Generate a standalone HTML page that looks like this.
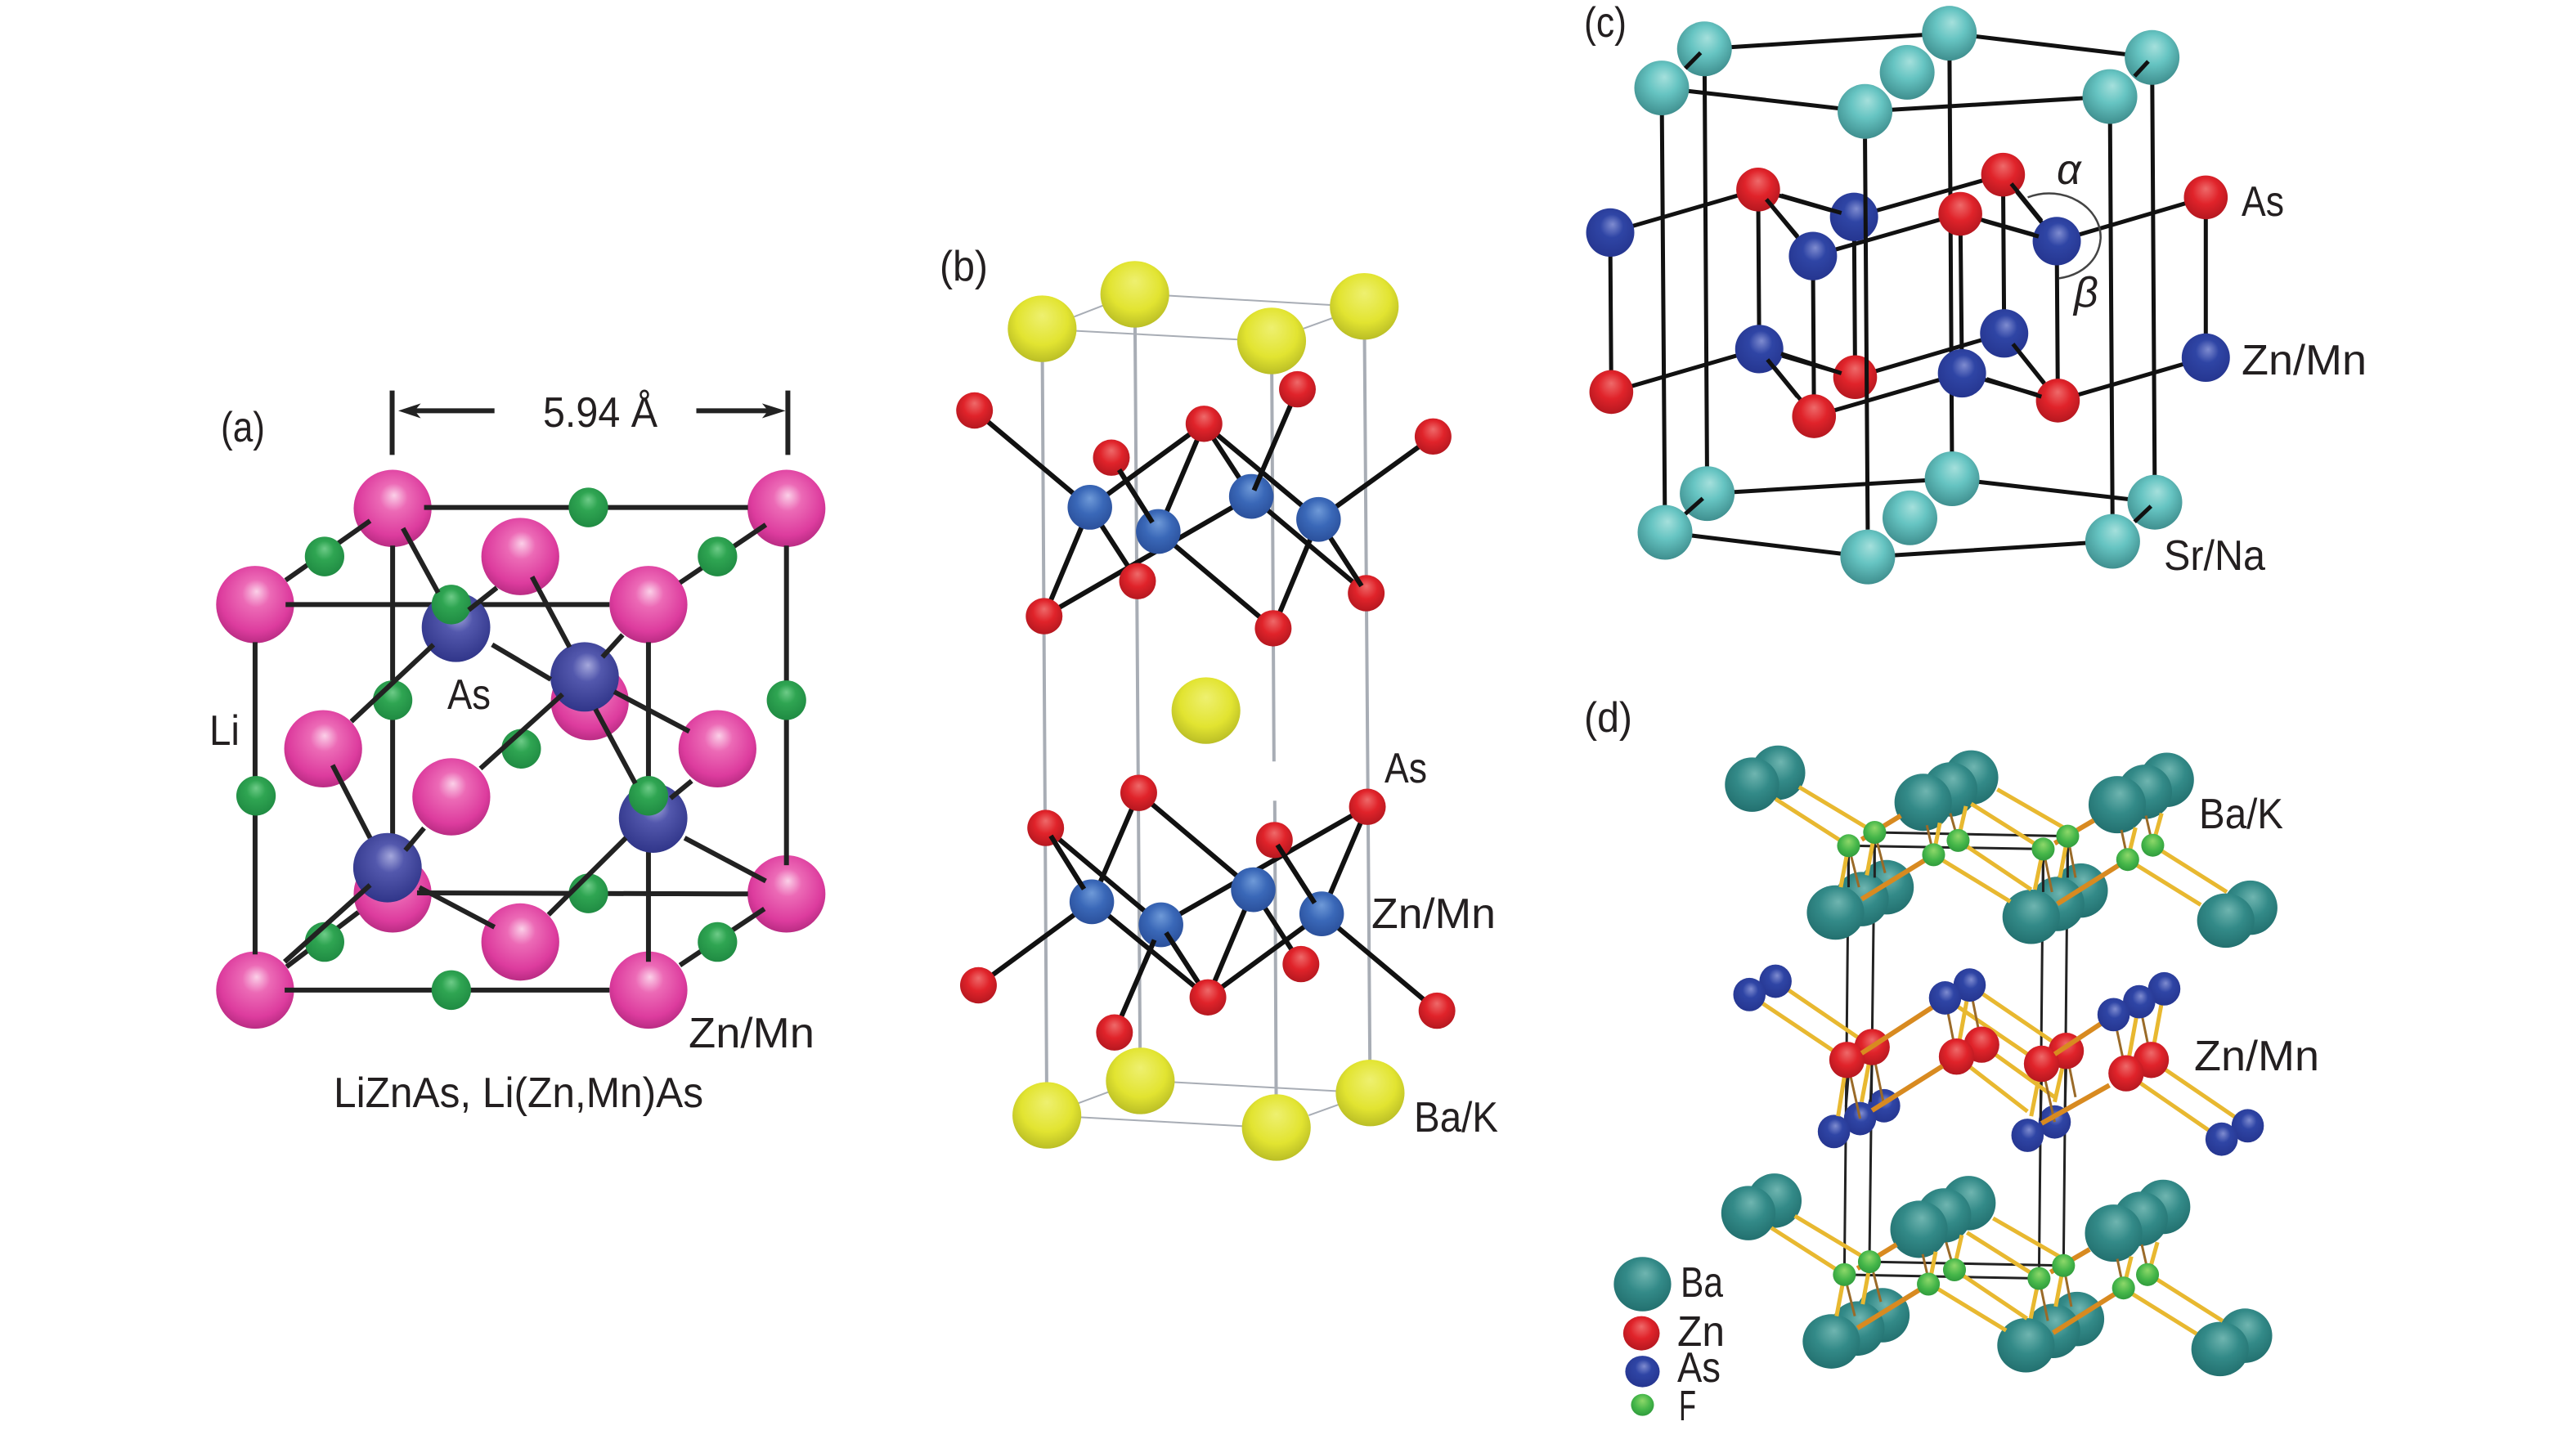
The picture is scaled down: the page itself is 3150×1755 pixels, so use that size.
<!DOCTYPE html>
<html><head><meta charset="utf-8"><style>
html,body{margin:0;padding:0;background:#fff}
svg{display:block}
path{vector-effect:non-scaling-stroke;fill:none;stroke-linecap:butt}
text{font-family:"Liberation Sans",sans-serif;font-size:52px;fill:#231f20}
</style></head><body>
<svg xmlns="http://www.w3.org/2000/svg" width="3150" height="1755" viewBox="0 0 3150 1755">
<defs>
<radialGradient id="pk" cx=".5" cy=".42" r=".6" fx=".52" fy=".33"><stop offset="0" stop-color="#fbd0e8"/><stop offset=".3" stop-color="#ec6ab6"/><stop offset=".75" stop-color="#dd3c9e"/><stop offset="1" stop-color="#b52a80"/></radialGradient>
<radialGradient id="gr" cx=".5" cy=".42" r=".6" fx=".5" fy=".3"><stop offset="0" stop-color="#6ecb88"/><stop offset=".4" stop-color="#2fa552"/><stop offset="1" stop-color="#1f8a42"/></radialGradient>
<radialGradient id="pu" cx=".5" cy=".42" r=".6" fx=".55" fy=".33"><stop offset="0" stop-color="#a5a8dc"/><stop offset=".35" stop-color="#5358ad"/><stop offset="1" stop-color="#2f3488"/></radialGradient>
<radialGradient id="ye" cx=".5" cy=".42" r=".62" fx=".5" fy=".3"><stop offset="0" stop-color="#eef070"/><stop offset=".6" stop-color="#e2e431"/><stop offset="1" stop-color="#b4b824"/></radialGradient>
<radialGradient id="re" cx=".5" cy=".42" r=".6" fx=".5" fy=".3"><stop offset="0" stop-color="#ee6a6a"/><stop offset=".5" stop-color="#e0232a"/><stop offset="1" stop-color="#b3171f"/></radialGradient>
<radialGradient id="bl" cx=".5" cy=".42" r=".6" fx=".5" fy=".3"><stop offset="0" stop-color="#6f9ad8"/><stop offset=".5" stop-color="#3a68b8"/><stop offset="1" stop-color="#2a4f9a"/></radialGradient>
<radialGradient id="db" cx=".5" cy=".42" r=".6" fx=".55" fy=".33"><stop offset="0" stop-color="#7f8cd0"/><stop offset=".4" stop-color="#2f45a5"/><stop offset="1" stop-color="#25358f"/></radialGradient>
<radialGradient id="tl" cx=".5" cy=".4" r=".62" fx=".55" fy=".3"><stop offset="0" stop-color="#a5e0dc"/><stop offset=".45" stop-color="#66c4c2"/><stop offset="1" stop-color="#3d8c8c"/></radialGradient>
<radialGradient id="tk" cx=".5" cy=".4" r=".62" fx=".55" fy=".3"><stop offset="0" stop-color="#6fb5b0"/><stop offset=".5" stop-color="#338a88"/><stop offset="1" stop-color="#226f6e"/></radialGradient>
<radialGradient id="fg" cx=".5" cy=".42" r=".6" fx=".5" fy=".3"><stop offset="0" stop-color="#8ed86a"/><stop offset=".6" stop-color="#45b649"/><stop offset="1" stop-color="#2f9a3c"/></radialGradient>
</defs>
<rect width="3150" height="1755" fill="#fff"/>

<!-- PANEL A -->
<g transform="translate(200 440) scale(.574 .606)">
<path stroke="#222" stroke-width="6" d="M487 62V192M1330 62V192M530 103H705M1135 103H1300"/>
<polygon fill="#222" points="500,103 548,88 535,103 548,118"/>
<polygon fill="#222" points="1325,103 1275,88 1288,103 1275,118"/>
<g fill="url(#pk)">
<ellipse cx="488" cy="300" rx="83" ry="78"/><ellipse cx="1327" cy="300" rx="83" ry="78"/><ellipse cx="488" cy="1078" rx="83" ry="78"/><ellipse cx="1327" cy="1078" rx="83" ry="78"/>
<ellipse cx="760" cy="397" rx="83" ry="78"/><ellipse cx="908" cy="690" rx="83" ry="78"/><ellipse cx="340" cy="785" rx="83" ry="78"/><ellipse cx="1180" cy="785" rx="83" ry="78"/><ellipse cx="613" cy="882" rx="83" ry="78"/><ellipse cx="760" cy="1175" rx="83" ry="78"/>
<ellipse cx="195" cy="494" rx="83" ry="78"/><ellipse cx="1033" cy="494" rx="83" ry="78"/><ellipse cx="195" cy="1272" rx="83" ry="78"/><ellipse cx="1033" cy="1272" rx="83" ry="78"/>
</g>
<path stroke="#222" stroke-width="6" d="M555 298H1245M260 445L440 325M1100 450L1283 333M260 494H950M488 375V960M1327 375V1020M195 570V1200M1033 570V1215M540 1076L1245 1078M258 1272H950M258 1215L440 1060M262 1225L415 1115M1100 1222L1280 1108"/>
<g fill="url(#gr)">
<ellipse cx="905" cy="298" rx="42" ry="40"/><ellipse cx="343" cy="397" rx="42" ry="40"/><ellipse cx="1180" cy="397" rx="42" ry="40"/><ellipse cx="488" cy="687" rx="42" ry="40"/><ellipse cx="1327" cy="687" rx="42" ry="40"/><ellipse cx="762" cy="785" rx="42" ry="40"/><ellipse cx="197" cy="880" rx="42" ry="40"/><ellipse cx="905" cy="1077" rx="42" ry="40"/><ellipse cx="343" cy="1175" rx="42" ry="40"/><ellipse cx="1180" cy="1175" rx="42" ry="40"/><ellipse cx="613" cy="1272" rx="42" ry="40"/>
</g>
<g fill="url(#pu)">
<ellipse cx="623" cy="540" rx="73" ry="70"/><ellipse cx="897" cy="640" rx="73" ry="70"/><ellipse cx="477" cy="1025" rx="73" ry="70"/><ellipse cx="1043" cy="925" rx="73" ry="70"/>
</g>
<g fill="url(#gr)"><ellipse cx="613" cy="494" rx="42" ry="40"/><ellipse cx="1033" cy="880" rx="42" ry="40"/></g>
<path stroke="#222" stroke-width="6" d="M510 340L585 470M650 505L710 460M785 438L865 580M700 575L825 645M575 575L400 730M935 600L978 555M850 675L675 825M960 670L1120 750M920 705L1005 855M1080 885L1125 850M985 965L820 1120M1110 965L1283 1052M360 818L440 965M515 990L555 945M545 1065L705 1145M258 1215L440 1060"/>
</g>
<text x="270" y="540" textLength="54" lengthAdjust="spacingAndGlyphs">(a)</text>
<text x="664" y="522" textLength="140" lengthAdjust="spacingAndGlyphs">5.94 Å</text>
<text x="256" y="911" textLength="37" lengthAdjust="spacingAndGlyphs">Li</text>
<text x="547" y="867" textLength="53" lengthAdjust="spacingAndGlyphs">As</text>
<text x="842" y="1281" textLength="154" lengthAdjust="spacingAndGlyphs">Zn/Mn</text>
<text x="408" y="1354" textLength="452" lengthAdjust="spacingAndGlyphs">LiZnAs, Li(Zn,Mn)As</text>

<!-- PANEL B -->
<g transform="translate(1120 280) scale(.478 .74)">
<path stroke="#a8adb5" stroke-width="2" d="M400 168L830 183M640 110L1070 126M405 145L525 115M990 165L1110 137M420 1468L840 1483M655 1410L1080 1425M415 1445L540 1415M1005 1465L1125 1437"/>
<path stroke="#a8adb5" stroke-width="4" d="M323 165L335 1465M560 108L574 1408M910 185L916 880M918 945L922 1485M1147 128L1162 1428"/>
<g fill="url(#ye)">
<ellipse cx="560" cy="108" rx="88" ry="55"/><ellipse cx="1147" cy="128" rx="88" ry="55"/><ellipse cx="323" cy="165" rx="88" ry="55"/><ellipse cx="910" cy="185" rx="88" ry="55"/>
<ellipse cx="742" cy="796" rx="88" ry="55"/>
<ellipse cx="574" cy="1408" rx="88" ry="55"/><ellipse cx="1162" cy="1428" rx="88" ry="55"/><ellipse cx="335" cy="1465" rx="88" ry="55"/><ellipse cx="922" cy="1485" rx="88" ry="55"/>
</g>
<path stroke="#111" stroke-width="6" d="M150 300L445 460M737 322L445 460M737 322L620 500M737 322L858 442M737 322L1030 480M500 378L620 500M976 265L858 442M1323 343L1030 480M445 460L328 640M445 460L567 582M858 442L328 640M620 500L914 660M858 442L1152 602M1030 480L914 660M1030 480L1152 602"/>
<path stroke="#111" stroke-width="6" d="M570 932L450 1112M570 932L863 1092M332 990L450 1112M332 990L627 1150M1155 955L627 1150M1155 955L1038 1132M917 1010L1038 1132M160 1250L450 1112M450 1112L747 1270M627 1150L747 1270M627 1150L508 1328M863 1092L747 1270M863 1092L985 1215M747 1270L1038 1132M1038 1132L1333 1292"/>
<g fill="url(#re)">
<ellipse cx="150" cy="300" rx="47" ry="30"/><ellipse cx="976" cy="265" rx="47" ry="30"/><ellipse cx="737" cy="322" rx="47" ry="30"/><ellipse cx="500" cy="378" rx="47" ry="30"/><ellipse cx="1323" cy="343" rx="47" ry="30"/><ellipse cx="567" cy="582" rx="47" ry="30"/><ellipse cx="1152" cy="602" rx="47" ry="30"/><ellipse cx="328" cy="640" rx="47" ry="30"/><ellipse cx="914" cy="660" rx="47" ry="30"/>
<ellipse cx="570" cy="932" rx="47" ry="30"/><ellipse cx="332" cy="990" rx="47" ry="30"/><ellipse cx="1155" cy="955" rx="47" ry="30"/><ellipse cx="917" cy="1010" rx="47" ry="30"/><ellipse cx="985" cy="1215" rx="47" ry="30"/><ellipse cx="160" cy="1250" rx="47" ry="30"/><ellipse cx="747" cy="1270" rx="47" ry="30"/><ellipse cx="508" cy="1328" rx="47" ry="30"/><ellipse cx="1333" cy="1292" rx="47" ry="30"/>
</g>
<g fill="url(#bl)">
<ellipse cx="445" cy="460" rx="57" ry="37"/><ellipse cx="620" cy="500" rx="57" ry="37"/><ellipse cx="858" cy="442" rx="57" ry="37"/><ellipse cx="1030" cy="480" rx="57" ry="37"/>
<ellipse cx="450" cy="1112" rx="57" ry="37"/><ellipse cx="627" cy="1150" rx="57" ry="37"/><ellipse cx="863" cy="1092" rx="57" ry="37"/><ellipse cx="1038" cy="1132" rx="57" ry="37"/>
</g>
<path stroke="#111" stroke-width="6" d="M520 398L605 485M885 402L865 432M1005 519L975 565M1065 515L1140 590M345 1003L430 1091M925 1018L1020 1114M640 1163L720 1243M610 1175L585 1213"/>
</g>
<text x="1149" y="343" textLength="59" lengthAdjust="spacingAndGlyphs">(b)</text>
<text x="1693" y="957" textLength="52" lengthAdjust="spacingAndGlyphs">As</text>
<text x="1677" y="1135" textLength="152" lengthAdjust="spacingAndGlyphs">Zn/Mn</text>
<text x="1729" y="1384" textLength="103" lengthAdjust="spacingAndGlyphs">Ba/K</text>

<!-- PANEL C -->
<g transform="translate(1900 0) scale(.67 .478)">
<path stroke="#111" stroke-width="5" d="M275 125L722 85L1092 147M197 225L568 285L1015 247M280 1263L727 1225L1097 1285M203 1362L573 1425L1020 1385M197 225L203 1362M275 125L280 1263M722 85L727 1225M1015 247L1020 1385M1092 147L1097 1285"/>
<g fill="url(#tl)">
<ellipse cx="275" cy="125" rx="50" ry="70"/><ellipse cx="197" cy="225" rx="50" ry="70"/><ellipse cx="722" cy="85" rx="50" ry="70"/><ellipse cx="645" cy="185" rx="50" ry="70"/><ellipse cx="568" cy="285" rx="50" ry="70"/><ellipse cx="1092" cy="147" rx="50" ry="70"/><ellipse cx="1015" cy="247" rx="50" ry="70"/>
<ellipse cx="280" cy="1263" rx="50" ry="70"/><ellipse cx="203" cy="1362" rx="50" ry="70"/><ellipse cx="727" cy="1225" rx="50" ry="70"/><ellipse cx="650" cy="1325" rx="50" ry="70"/><ellipse cx="573" cy="1425" rx="50" ry="70"/><ellipse cx="1097" cy="1285" rx="50" ry="70"/><ellipse cx="1020" cy="1385" rx="50" ry="70"/>
</g>
<path stroke="#111" stroke-width="5" d="M240 175L268 135M1060 195L1085 157M240 1315L272 1275M1060 1335L1090 1295"/>
<path stroke="#111" stroke-width="5" d="M103 595L373 485L548 555L820 447L918 617L1190 505M373 485L473 655L742 547L918 617M105 1003L375 893L550 965L822 853L920 1025L1190 915M375 893L475 1065L745 955L920 1025M103 595L105 1003M373 485L375 893M473 655L475 1065M548 555L550 965M742 547L745 955M820 447L822 853M918 617L920 1025M1190 505L1190 915"/>
<g fill="url(#re)">
<ellipse cx="373" cy="485" rx="40" ry="56"/><ellipse cx="820" cy="447" rx="40" ry="56"/><ellipse cx="742" cy="547" rx="40" ry="56"/><ellipse cx="1190" cy="505" rx="40" ry="56"/><ellipse cx="105" cy="1003" rx="40" ry="56"/><ellipse cx="550" cy="965" rx="40" ry="56"/><ellipse cx="475" cy="1065" rx="40" ry="56"/><ellipse cx="920" cy="1025" rx="40" ry="56"/>
</g>
<g fill="url(#db)">
<ellipse cx="103" cy="595" rx="44" ry="62"/><ellipse cx="548" cy="555" rx="44" ry="62"/><ellipse cx="473" cy="655" rx="44" ry="62"/><ellipse cx="918" cy="617" rx="44" ry="62"/><ellipse cx="375" cy="893" rx="44" ry="62"/><ellipse cx="822" cy="853" rx="44" ry="62"/><ellipse cx="745" cy="955" rx="44" ry="62"/><ellipse cx="1190" cy="915" rx="44" ry="62"/>
</g>
<path stroke="#111" stroke-width="5" d="M568 355L573 1355M388 510L445 605M835 470L890 565M390 920L445 1015M838 880L895 980M415 500L525 545M785 565L885 605M415 905L525 955M790 970L890 1015"/>
<path stroke="#444" stroke-width="2.5" d="M865 505C930 470 1000 530 998 610C995 670 960 705 922 712"/>
</g>
<text x="1937" y="45" textLength="52" lengthAdjust="spacingAndGlyphs">(c)</text>
<text x="2741" y="264" textLength="52" lengthAdjust="spacingAndGlyphs">As</text>
<text x="2741" y="458" textLength="153" lengthAdjust="spacingAndGlyphs">Zn/Mn</text>
<text x="2646" y="697" textLength="124" lengthAdjust="spacingAndGlyphs">Sr/Na</text>
<text x="2515" y="225" font-style="italic">α</text>
<text x="2536" y="375" font-style="italic">β</text>

<!-- PANEL D -->
<g transform="translate(1900 840) scale(.638 .5835)">
<path stroke="#222" stroke-width="3" d="M615 305L985 313M565 333L938 340M605 1205L977 1213M557 1232L930 1240M565 340L557 1232M615 305L605 1205M938 340L930 1240M985 313L977 1213"/>
<!-- row 1 -->
<g fill="url(#tk)">
<ellipse cx="430" cy="180" rx="52" ry="57"/><ellipse cx="380" cy="205" rx="52" ry="57"/>
<ellipse cx="800" cy="190" rx="52" ry="57"/><ellipse cx="760" cy="215" rx="52" ry="57"/><ellipse cx="708" cy="242" rx="55" ry="60"/>
<ellipse cx="1175" cy="195" rx="52" ry="57"/><ellipse cx="1133" cy="220" rx="52" ry="57"/><ellipse cx="1080" cy="247" rx="55" ry="60"/>
<ellipse cx="638" cy="420" rx="52" ry="57"/><ellipse cx="590" cy="445" rx="52" ry="57"/><ellipse cx="540" cy="473" rx="55" ry="57"/>
<ellipse cx="1010" cy="427" rx="52" ry="57"/><ellipse cx="965" cy="455" rx="52" ry="57"/><ellipse cx="915" cy="482" rx="55" ry="57"/>
<ellipse cx="1335" cy="463" rx="52" ry="57"/><ellipse cx="1288" cy="490" rx="55" ry="57"/>
</g>
<path stroke="#222" stroke-width="3" d="M565 350V420M615 330V400M938 360V430M985 340V400"/>
<g id="bonds1">
<path stroke="#e8b830" stroke-width="5" d="M470 210L615 305M425 235L565 333M850 215L985 300M800 245L938 340M728 352L875 450M775 322L915 425M1148 332L1290 430M1100 362L1240 457M565 333L550 420M615 305L600 395M728 352L740 285M775 322L790 250M938 340L922 425M985 313L970 400M1100 362L1115 295M1148 332L1165 265"/>
<path stroke="#9a6a28" stroke-width="3" d="M565 333L585 420M615 305L635 390M728 352L715 290M775 322L760 265M938 340L955 430M985 313L1000 400M1100 362L1088 300M1148 332L1135 270"/>
<path stroke="#d88a20" stroke-width="6" d="M590 320L665 270M960 328L1035 280M590 445L728 352M965 455L1100 362"/>
</g>
<g fill="url(#fg)">
<ellipse cx="615" cy="305" rx="22" ry="24"/><ellipse cx="565" cy="333" rx="22" ry="24"/><ellipse cx="775" cy="322" rx="22" ry="24"/><ellipse cx="728" cy="352" rx="22" ry="24"/><ellipse cx="985" cy="313" rx="22" ry="24"/><ellipse cx="938" cy="340" rx="22" ry="24"/><ellipse cx="1148" cy="332" rx="22" ry="24"/><ellipse cx="1100" cy="362" rx="22" ry="24"/>
</g>
<!-- row 2 -->
<g fill="url(#db)">
<ellipse cx="633" cy="878" rx="31" ry="35"/><ellipse cx="587" cy="905" rx="31" ry="35"/><ellipse cx="537" cy="932" rx="31" ry="35"/><ellipse cx="960" cy="912" rx="31" ry="35"/><ellipse cx="908" cy="940" rx="31" ry="35"/>
</g>
<path stroke="#222" stroke-width="3" d="M565 810L560 880M610 790L607 870M935 820L933 910M982 795L980 880"/>
<path stroke="#e8b830" stroke-width="5" d="M425 617L610 755M375 645L562 782M797 625L982 763M750 652L935 790M772 775L908 890M820 750L960 860M1145 782L1330 920M1097 810L1280 948M562 782L545 900M610 755L590 870M935 790L915 900M982 763L960 870M797 625L772 775M1122 660L1097 810M1170 633L1145 782"/>
<path stroke="#9a6a28" stroke-width="3" d="M750 652L772 775M797 625L820 750M1073 687L1097 810M1122 660L1145 782M562 782L587 905M610 755L633 878M935 790L960 912M982 763L1000 860"/>
<g fill="url(#re)">
<ellipse cx="820" cy="750" rx="34" ry="38"/><ellipse cx="772" cy="775" rx="34" ry="38"/><ellipse cx="610" cy="755" rx="34" ry="38"/><ellipse cx="562" cy="782" rx="34" ry="38"/><ellipse cx="982" cy="763" rx="34" ry="38"/><ellipse cx="935" cy="790" rx="34" ry="38"/><ellipse cx="1145" cy="782" rx="34" ry="38"/><ellipse cx="1097" cy="810" rx="34" ry="38"/>
</g>
<path stroke="#d88a20" stroke-width="6" d="M590 768L725 672M610 888L745 795M960 770L1050 705M935 915L1065 835"/>
<g fill="url(#db)">
<ellipse cx="425" cy="617" rx="31" ry="35"/><ellipse cx="375" cy="645" rx="31" ry="35"/><ellipse cx="797" cy="625" rx="31" ry="35"/><ellipse cx="750" cy="652" rx="31" ry="35"/><ellipse cx="1170" cy="633" rx="31" ry="35"/><ellipse cx="1122" cy="660" rx="31" ry="35"/><ellipse cx="1073" cy="687" rx="31" ry="35"/>
<ellipse cx="1330" cy="920" rx="31" ry="35"/><ellipse cx="1280" cy="948" rx="31" ry="35"/>
</g>
<!-- row 3 -->
<g fill="url(#tk)">
<ellipse cx="423" cy="1077" rx="52" ry="57"/><ellipse cx="373" cy="1103" rx="52" ry="57"/>
<ellipse cx="795" cy="1082" rx="52" ry="57"/><ellipse cx="748" cy="1108" rx="52" ry="57"/><ellipse cx="700" cy="1137" rx="55" ry="60"/>
<ellipse cx="1168" cy="1090" rx="52" ry="57"/><ellipse cx="1125" cy="1115" rx="52" ry="57"/><ellipse cx="1073" cy="1145" rx="55" ry="60"/>
<ellipse cx="630" cy="1317" rx="52" ry="57"/><ellipse cx="582" cy="1345" rx="52" ry="57"/><ellipse cx="532" cy="1372" rx="55" ry="57"/>
<ellipse cx="1003" cy="1325" rx="52" ry="57"/><ellipse cx="957" cy="1350" rx="52" ry="57"/><ellipse cx="905" cy="1380" rx="55" ry="57"/>
<ellipse cx="1325" cy="1360" rx="52" ry="57"/><ellipse cx="1277" cy="1388" rx="55" ry="57"/>
</g>
<use href="#bonds1" transform="translate(-8 899)"/>
<g fill="url(#fg)">
<ellipse cx="605" cy="1205" rx="22" ry="24"/><ellipse cx="557" cy="1232" rx="22" ry="24"/><ellipse cx="768" cy="1222" rx="22" ry="24"/><ellipse cx="718" cy="1252" rx="22" ry="24"/><ellipse cx="977" cy="1213" rx="22" ry="24"/><ellipse cx="930" cy="1240" rx="22" ry="24"/><ellipse cx="1138" cy="1232" rx="22" ry="24"/><ellipse cx="1092" cy="1260" rx="22" ry="24"/>
</g>
<!-- legend -->
<ellipse cx="170" cy="1252" rx="55" ry="57" fill="url(#tk)"/>
<ellipse cx="168" cy="1355" rx="35" ry="36" fill="url(#re)"/>
<ellipse cx="170" cy="1435" rx="33" ry="33" fill="url(#db)"/>
<ellipse cx="170" cy="1505" rx="22" ry="23" fill="url(#fg)"/>
</g>
<text x="1937" y="895" textLength="59" lengthAdjust="spacingAndGlyphs">(d)</text>
<text x="2689" y="1013" textLength="103" lengthAdjust="spacingAndGlyphs">Ba/K</text>
<text x="2683" y="1309" textLength="153" lengthAdjust="spacingAndGlyphs">Zn/Mn</text>
<text x="2055" y="1586" textLength="52" lengthAdjust="spacingAndGlyphs">Ba</text>
<text x="2051" y="1646" textLength="58" lengthAdjust="spacingAndGlyphs">Zn</text>
<text x="2051" y="1690" textLength="53" lengthAdjust="spacingAndGlyphs">As</text>
<text x="2053" y="1737" textLength="21" lengthAdjust="spacingAndGlyphs">F</text>
</svg>
</body></html>
